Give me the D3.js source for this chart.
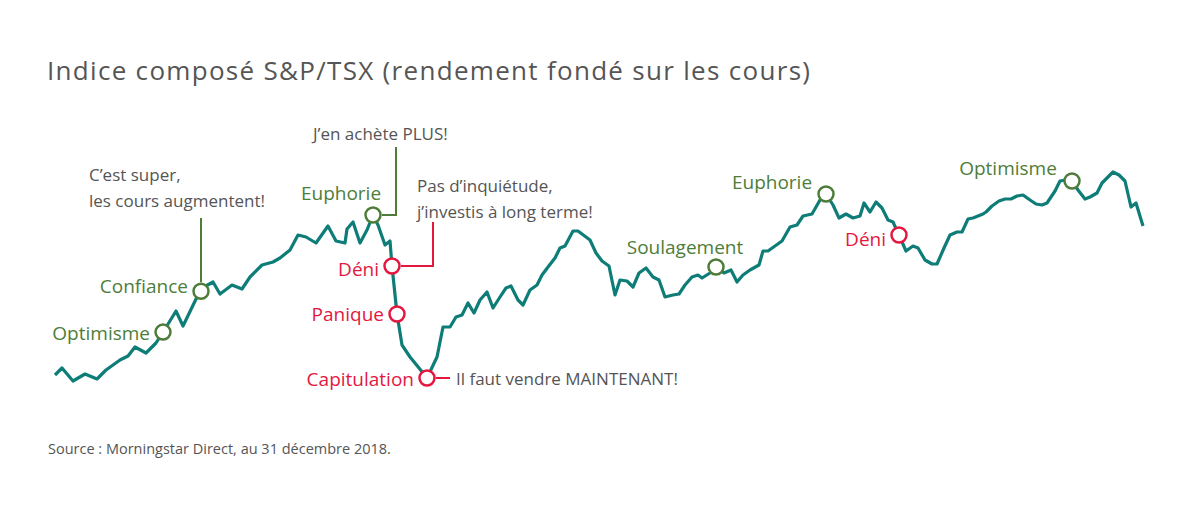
<!DOCTYPE html>
<html><head><meta charset="utf-8">
<script src="https://cdn.jsdelivr.net/npm/d3@7"></script>
<style>body{margin:0;background:#fff}text{font-family:"Open Sans",Lato,sans-serif}</style>
</head><body><div id="chart"></div>
<script>
// time step (arbitrary units) and index level (arbitrary units)
var steps = [55,62,73,85,97,106,120,128,135,146,156,165,176,183,197,204,213,220,232,242,250,262,273,280,290,298,306,316,328,336,345,347,353,360,367,373,378,385,390,392,397,402,410,419,427,
  437,443,450,456,462,468,474,480,487,493,500,506,511,518,523,530,537,542,548,555,560,565,573,578,590,596,602,609,615,620,627,633,639,646,653,659,665,673,679,685,692,698,702,710,716,724,731,737,743,750,759,763,768,775,782,790,797,803,812,820,826,
  833,839,846,853,860,864,870,876,882,888,893,899,906,913,918,925,932,937,944,950,957,962,968,973,983,986,992,999,1005,1011,1017,1023,1030,1036,1042,1047,1055,1060,1066,1072,1078,1085,1090,1097,1102,1108,1113,1119,1125,1131,1136,1143];
var levels = [375,368,381,374,379,370,360,356,347,353,343,329,311,326,297,287,282,294,285,289,277,265,262,258,250,235,237,243,226,241,243,229,222,243,230,215,225,245,241,266,314,345,357,368,378,
  357,327,327,317,315,303,313,300,292,308,297,288,286,300,305,290,285,275,267,258,248,246,231,231,240,253,261,266,295,280,281,287,273,268,277,280,297,295,294,285,277,275,278,273,267,273,270,282,275,270,265,251,251,246,241,227,225,216,214,200,194,
  205,218,214,218,216,203,212,202,208,220,222,235,251,246,248,260,264,264,248,235,232,232,219,218,214,212,206,201,199,199,196,195,200,204,205,203,191,181,180,181,190,199,197,193,183,177,172,175,181,207,203,226].map(function(p){return 420-p;});

var phaseNames = ["Optimisme","Confiance","Euphorie","Déni","Panique","Capitulation","Soulagement","Euphorie","Déni","Optimisme"];
var phaseSteps = [163,201,373,392,397,427,716,826,899,1072];
var phaseMood = ["g","g","g","r","r","r","g","g","r","g"];
var quotes = ["C’est super,|les cours augmentent!","J’en achète PLUS!","Pas d’inquiétude,|j’investis à long terme!","Il faut vendre MAINTENANT!"];

var W=1199,H=505, green="#4e7d3a", red="#e4173f", teal="#0e7d78", grey="#555";
var svg=d3.select('#chart').append('svg').attr('width',W).attr('height',H);
var x=d3.scaleLinear().domain([0,1199]).range([0,1199]);
var y=d3.scaleLinear().domain([0,420]).range([420,0]);
var data=steps.map(function(s,i){return [s,levels[i]];});
function levelAt(s){var b=d3.bisector(function(d){return d[0];}).left(data,s);
  if(b<=0)return data[0][1]; if(b>=data.length)return data[data.length-1][1];
  var a=data[b-1],c=data[b];return a[1]+(c[1]-a[1])*(s-a[0])/(c[0]-a[0]);}

svg.append('text').attr('x',47).attr('y',80).attr('font-size',26).attr('fill',grey).attr('textLength',763).text('Indice composé S&P/TSX (rendement fondé sur les cours)');
svg.append('text').attr('x',48).attr('y',454).attr('font-size',14.5).attr('fill',grey).text('Source : Morningstar Direct, au 31 décembre 2018.');

// leader lines for the quotes
var pts=phaseSteps.map(function(s,i){return {x:x(s),y:y(levelAt(s)),name:phaseNames[i],c:phaseMood[i]=="g"?green:red};});
var leaders=[
  {c:green,d:[[pts[1].x,pts[1].y-9],[pts[1].x,218]]},
  {c:green,d:[[pts[2].x+9,pts[2].y],[396,pts[2].y],[396,147]]},
  {c:red,d:[[pts[3].x+9,pts[3].y],[433,pts[3].y],[433,222]]},
  {c:red,d:[[pts[5].x+9,pts[5].y],[450,pts[5].y]]}];
leaders.forEach(function(l){svg.append('path').attr('d',d3.line()(l.d)).attr('fill','none').attr('stroke',l.c).attr('stroke-width',2);});

var qpos=[[89,181],[313,140],[417,192],[456,385]];
quotes.forEach(function(q,i){q.split('|').forEach(function(t,j){
  svg.append('text').attr('x',qpos[i][0]).attr('y',qpos[i][1]+j*26).attr('font-size',17).attr('fill',grey).text(t);});});

svg.append('path').datum(data).attr('fill','none').attr('stroke',teal).attr('stroke-width',3.2).attr('stroke-linejoin','round')
  .attr('d',d3.line().x(function(d){return x(d[0]);}).y(function(d){return y(d[1]);}));

pts.forEach(function(p){svg.append('circle').attr('cx',p.x).attr('cy',p.y).attr('r',7.5).attr('fill','#fff').attr('stroke',p.c).attr('stroke-width',2.5);});

// label placement relative to marker: [dx, dy, anchor]
var lp=[[-13,8,'end'],[-13,2,'end'],[-32,-15,'middle'],[-13,10,'end'],[-13,7,'end'],[-13,8,'end'],[-31,-13,'middle'],[-54,-5,'middle'],[-13,11,'end'],[-64,-6,'middle']];
pts.forEach(function(p,i){svg.append('text').attr('x',p.x+lp[i][0]).attr('y',p.y+lp[i][1]).attr('text-anchor',lp[i][2])
  .attr('font-size',19).attr('fill',p.c).text(p.name);});
</script></body></html>
